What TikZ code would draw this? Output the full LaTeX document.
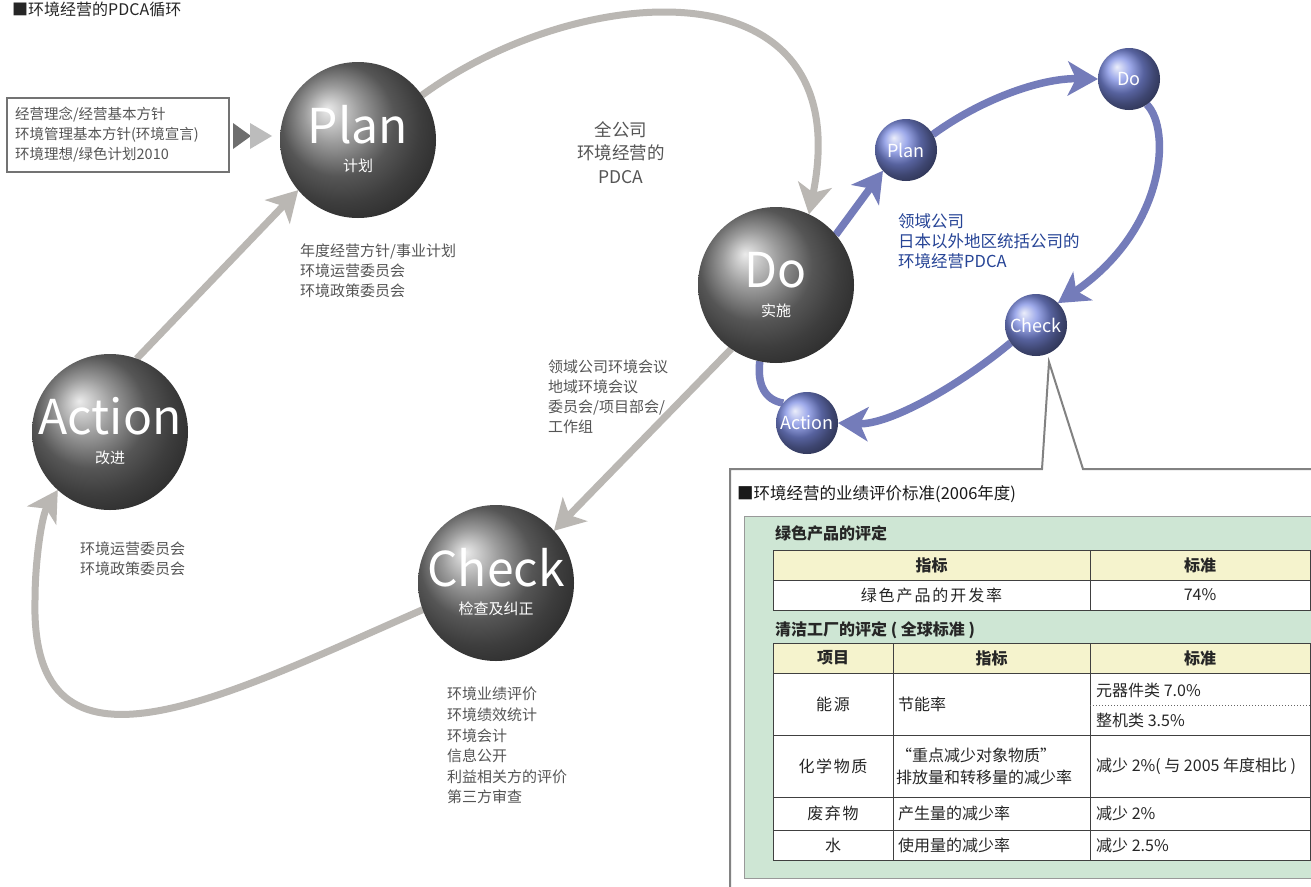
\documentclass[tikz,border=0pt]{standalone}
\usepackage{fontspec}
\setmainfont{Noto Sans CJK SC}
\usetikzlibrary{arrows.meta,calc,shadings}
\pgfdeclarelayer{bg}
\pgfsetlayers{bg,main}
\definecolor{garrowc}{RGB}{186,183,179}
\definecolor{barrowc}{RGB}{116,124,186}
\definecolor{bballc}{RGB}{124,140,226}
\definecolor{btext}{RGB}{38,68,150}
\definecolor{txtgrey}{RGB}{85,85,85}
\definecolor{panelgreen}{RGB}{206,230,212}
\definecolor{headyellow}{RGB}{245,243,205}
\definecolor{callgrey}{RGB}{130,130,130}
\definecolor{tridark}{RGB}{110,110,110}
\definecolor{trilight}{RGB}{188,188,188}
\begin{document}
\begin{tikzpicture}[x=1pt,y=-1pt,
  bigball/.style={circle,minimum size=156pt,inner sep=0pt,outer sep=0pt,shading=ball,ball color=black!52},
  smallball/.style={circle,minimum size=62pt,inner sep=0pt,outer sep=0pt,shading=ball,ball color=bballc,text=white,font=\fontsize{18}{18}\selectfont},
  bigword/.style={text=white,font=\fontsize{48}{48}\selectfont,inner sep=0pt},
  subword/.style={text=white,font=\fontsize{15}{15}\selectfont,inner sep=0pt},
  note/.style={text=txtgrey,font=\fontsize{15}{20}\selectfont,align=left,anchor=north west,inner sep=0pt},
  garrow/.style={draw=garrowc,line width=7pt,-{Stealth[length=30pt,width=34pt,inset=8pt]}},
  barrow/.style={draw=barrowc,line width=7.5pt,-{Stealth[length=30pt,width=34pt,inset=8pt]}},
  bline/.style={draw=barrowc,line width=7.5pt},
  tline/.style={draw=black!75,line width=1pt},
  tcell/.style={font=\fontsize{16}{20}\selectfont,inner sep=0pt,text=black!85},
  thead/.style={font=\fontsize{16}{20}\selectfont\bfseries,inner sep=0pt,text=black!85},
]
\useasboundingbox (0,0) rectangle (1311,886);
\begin{pgfonlayer}{bg}
\fill[white] (0,0) rectangle (1311,886);
\end{pgfonlayer}

% title
\node[anchor=base west,font=\fontsize{16}{16}\selectfont,inner sep=0pt,text=black!85] (title) at (12,15) {■环境经营的PDCA循环};

% big spheres
\node[bigball] (plan) at (358,140) {};
\node[bigball] (do) at (776,285) {};
\node[bigball] (check) at (496,583) {};
\node[bigball] (action) at (110,432) {};
\node[bigword] (planw) at ($(plan)+(0,-15)$) {Plan};
\node[subword] (plans) at ($(plan)+(0,26)$) {计划};
\node[bigword] (dow) at ($(do)+(0,-15)$) {Do};
\node[subword] (dos) at ($(do)+(0,26)$) {实施};
\node[bigword] (checkw) at ($(check)+(0,-15)$) {Check};
\node[subword] (checks) at ($(check)+(0,26)$) {检查及纠正};
\node[bigword] (actionw) at ($(action)+(0,-16)$) {Action};
\node[subword] (actions) at ($(action)+(0,26)$) {改进};

% small blue spheres
\node[smallball] (bplan) at (906,150) {Plan};
\node[smallball] (bdo) at (1129,79) {Do};
\node[smallball] (bcheck) at (1036,325) {Check};
\node[smallball] (baction) at (807,423) {Action};

% connectors
\begin{pgfonlayer}{bg}
\draw[garrow] (action.70) -- (plan.220);
\draw[garrow] (plan.35) .. controls (580,-20) and (860,-40) .. (do.65);
\draw[garrow] (do.235) -- (check.42);
\draw[garrow] (check.200) .. controls (223,697) and (30,798) .. (35,600) .. controls (35,560) and (42,515) .. (action.228);
\draw[barrow] (do.40) -- (bplan.222);
\draw[barrow] (bplan.30) .. controls (980,100) and (1040,78) .. (bdo.180);
\draw[barrow] (bdo.305) .. controls (1172,130) and (1165,230) .. (bcheck.45);
\draw[barrow] (bcheck.215) .. controls (960,385) and (890,425) .. (baction.0);
\draw[bline] (baction.140) .. controls (765,400) and (757,385) .. (do.258);
\end{pgfonlayer}

% left input box
\node[draw=black!55,line width=1.2pt,minimum width=222pt,minimum height=74pt,text width=206pt,align=left,inner sep=0pt,text=txtgrey,font=\fontsize{14.5}{20}\selectfont] (ideas) at (118,135) {经营理念/经营基本方针\\环境管理基本方针(环境宣言)\\环境理想/绿色计划2010};
\fill[tridark] (233,123) -- (251,136) -- (233,149) -- cycle;
\fill[trilight] (250,123) -- (272,136) -- (250,149) -- cycle;

% notes
\node[note] (plannote) at (300,244) {年度经营方针/事业计划\\环境运营委员会\\环境政策委员会};
\node[text=txtgrey,font=\fontsize{17.5}{23.5}\selectfont,align=center,anchor=north,inner sep=0pt] (whole) at (621,121) {全公司\\环境经营的\\PDCA};
\node[note] (donote) at (548,360) {领域公司环境会议\\地域环境会议\\委员会/项目部会/\\工作组};
\node[note] (actionnote) at (80,542) {环境运营委员会\\环境政策委员会};
\node[note,font=\fontsize{15}{20.6}\selectfont] (checknote) at (447,687) {环境业绩评价\\环境绩效统计\\环境会计\\信息公开\\利益相关方的评价\\第三方审查};
\node[note,text=btext,font=\fontsize{16.5}{20}\selectfont] (bluenote) at (898,213) {领域公司\\日本以外地区统括公司的\\环境经营PDCA};

% callout frame
\coordinate (callpeak) at (1049,362);
\draw[callgrey,line width=2pt] (730,887) -- (730,469) -- (1042,469) -- (callpeak) -- (1083,469) -- (1312,469);

\node[anchor=west,inner sep=0pt,font=\fontsize{16.5}{20}\selectfont,text=black!90] (ptitle) at (737,494) {■环境经营的业绩评价标准(2006年度)};

% green panel
\filldraw[fill=panelgreen,draw=black!40,line width=1pt] (744,516) rectangle (1313,878);
\node[anchor=west,thead] (sec1) at (775,533) {绿色产品的评定};
\node[anchor=west,thead] (sec2) at (775,630) {清洁工厂的评定 ( 全球标准 )};

% table 1
\fill[headyellow] (773,550) rectangle (1310,580);
\fill[white] (773,580) rectangle (1310,610);
\draw[tline] (773,550) rectangle (1310,610);
\draw[tline] (773,580) -- (1310,580);
\draw[tline] (1090,550) -- (1090,610);
\node[thead] (t1h1) at (931.5,565) {指标};
\node[thead] (t1h2) at (1200,565) {标准};
\node[tcell] (t1c1) at (931.5,595) {\addfontfeatures{LetterSpace=12}绿色产品的开发率};
\node[tcell] (t1c2) at (1200,595) {74\%};

% table 2
\fill[headyellow] (773,643) rectangle (1310,673);
\fill[white] (773,673) rectangle (1310,860);
\draw[tline] (773,643) rectangle (1310,860);
\foreach \yy in {673,735,797,830} \draw[tline] (773,\yy) -- (1310,\yy);
\draw[tline] (893,643) -- (893,860);
\draw[tline] (1090,643) -- (1090,860);
\draw[black!60,line width=1pt,dotted] (1090,705) -- (1310,705);
\node[thead] (t2h1) at (833,658) {项目};
\node[thead] (t2h2) at (991.5,658) {指标};
\node[thead] (t2h3) at (1200,658) {标准};
\node[tcell] (r1a) at (833,704) {\addfontfeatures{LetterSpace=10}能源};
\node[tcell,anchor=west] (r1b) at (898,704) {节能率};
\node[tcell,anchor=west] (r1c) at (1096,690) {元器件类 7.0\%};
\node[tcell,anchor=west] (r1d) at (1096,720) {整机类 3.5\%};
\node[tcell] (r2a) at (833,766) {\addfontfeatures{LetterSpace=10}化学物质};
\node[tcell,anchor=west,align=left,font=\fontsize{16}{22}\selectfont] (r2b) at (896,766) {“重点减少对象物质”\\排放量和转移量的减少率};
\node[tcell,anchor=west] (r2c) at (1096,766) {减少 2\%( 与 2005 年度相比 )};
\node[tcell] (r3a) at (833,813) {\addfontfeatures{LetterSpace=10}废弃物};
\node[tcell,anchor=west] (r3b) at (898,813) {产生量的减少率};
\node[tcell,anchor=west] (r3c) at (1096,813) {减少 2\%};
\node[tcell] (r4a) at (833,845) {水};
\node[tcell,anchor=west] (r4b) at (898,845) {使用量的减少率};
\node[tcell,anchor=west] (r4c) at (1096,845) {减少 2.5\%};
\end{tikzpicture}
\end{document}
